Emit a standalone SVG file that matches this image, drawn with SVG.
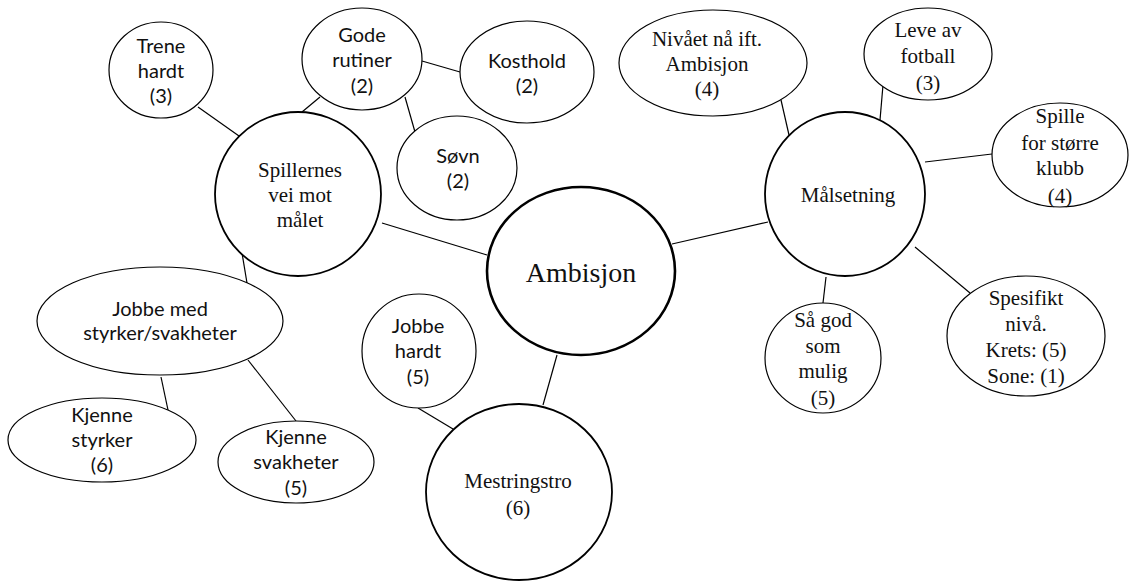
<svg xmlns="http://www.w3.org/2000/svg" width="1129" height="581" viewBox="0 0 1129 581">
  <style>
    .bg { fill: #ffffff; }
    .node { fill: #ffffff; stroke: #000000; stroke-width: 1.2; }
    .main { stroke-width: 1.8; }
    .core { stroke-width: 2.6; }
    .edge { stroke: #000000; stroke-width: 1.2; fill: none; }
    .calib { font-family: Lato, 'Liberation Sans', sans-serif; font-size: 20px; fill: #111111; text-anchor: middle; }
    .roman { font-family: 'Liberation Serif', 'Times New Roman', serif; font-size: 21px; fill: #111111; text-anchor: middle; }
    .big { font-size: 28px; }
  </style>
  <rect class="bg" x="0" y="0" width="1129" height="581"/>

  <!-- connectors -->
  <g id="connectors">
    <line class="edge" x1="198" y1="107" x2="239" y2="136"/>
    <line class="edge" x1="320" y1="97" x2="302" y2="112"/>
    <line class="edge" x1="422" y1="61" x2="460" y2="72"/>
    <line class="edge" x1="405" y1="97" x2="415" y2="132"/>
    <line class="edge" x1="382" y1="223" x2="487" y2="255"/>
    <line class="edge" x1="672" y1="244" x2="768" y2="222"/>
    <line class="edge" x1="781" y1="100" x2="789" y2="135"/>
    <line class="edge" x1="883" y1="85" x2="880" y2="120"/>
    <line class="edge" x1="992" y1="154" x2="925" y2="162"/>
    <line class="edge" x1="915" y1="247" x2="970" y2="293"/>
    <line class="edge" x1="826" y1="277" x2="823" y2="303"/>
    <line class="edge" x1="242" y1="253" x2="247" y2="283"/>
    <line class="edge" x1="161" y1="377" x2="168" y2="410"/>
    <line class="edge" x1="248" y1="360" x2="296" y2="421"/>
    <line class="edge" x1="557" y1="355" x2="543" y2="405"/>
    <line class="edge" x1="418" y1="408" x2="453" y2="429"/>
  </g>

  <!-- centre -->
  <g id="ambisjon">
    <ellipse class="node core" cx="581" cy="271" rx="94" ry="84"/>
    <text class="roman big" x="581" y="282">Ambisjon</text>
  </g>

  <!-- left branch: the players' path -->
  <g id="spillernes">
    <ellipse class="node main" cx="298" cy="194" rx="83" ry="82"/>
    <g class="roman">
      <text x="300" y="177">Spillernes</text>
      <text x="300" y="202">vei mot</text>
      <text x="300" y="227">målet</text>
    </g>
  </g>
  <g id="trene-hardt">
    <ellipse class="node" cx="161" cy="70" rx="52" ry="48"/>
    <g class="calib">
      <text x="161" y="53">Trene</text>
      <text x="161" y="78">hardt</text>
      <text x="161" y="103">(3)</text>
    </g>
  </g>
  <g id="gode-rutiner">
    <ellipse class="node" cx="362" cy="59" rx="60" ry="51"/>
    <g class="calib">
      <text x="362" y="42">Gode</text>
      <text x="362" y="67">rutiner</text>
      <text x="362" y="93">(2)</text>
    </g>
  </g>
  <g id="kosthold">
    <ellipse class="node" cx="527" cy="72" rx="67" ry="51"/>
    <g class="calib">
      <text x="527" y="68">Kosthold</text>
      <text x="527" y="93">(2)</text>
    </g>
  </g>
  <g id="sovn">
    <ellipse class="node" cx="457" cy="168" rx="60" ry="52"/>
    <g class="calib">
      <text x="458" y="163">Søvn</text>
      <text x="458" y="188">(2)</text>
    </g>
  </g>
  <g id="jobbe-med">
    <ellipse class="node" cx="160" cy="321" rx="123" ry="54"/>
    <g class="calib">
      <text x="160" y="316">Jobbe med</text>
      <text x="160" y="340">styrker/svakheter</text>
    </g>
  </g>
  <g id="kjenne-styrker">
    <ellipse class="node" cx="102" cy="440" rx="94" ry="42"/>
    <g class="calib">
      <text x="102" y="422">Kjenne</text>
      <text x="102" y="447">styrker</text>
      <text x="102" y="472">(6)</text>
    </g>
  </g>
  <g id="kjenne-svakheter">
    <ellipse class="node" cx="296" cy="462" rx="78" ry="41"/>
    <g class="calib">
      <text x="296" y="444">Kjenne</text>
      <text x="296" y="469">svakheter</text>
      <text x="296" y="495">(5)</text>
    </g>
  </g>

  <!-- lower branch: mastery -->
  <g id="mestringstro">
    <ellipse class="node main" cx="519" cy="492" rx="93" ry="88"/>
    <g class="roman">
      <text x="518" y="488">Mestringstro</text>
      <text x="518" y="515">(6)</text>
    </g>
  </g>
  <g id="jobbe-hardt">
    <ellipse class="node" cx="419" cy="351" rx="57" ry="57"/>
    <g class="calib">
      <text x="418" y="333">Jobbe</text>
      <text x="418" y="358">hardt</text>
      <text x="418" y="384">(5)</text>
    </g>
  </g>

  <!-- right branch: goals -->
  <g id="malsetning">
    <ellipse class="node main" cx="845" cy="194" rx="80" ry="82"/>
    <text class="roman" x="848" y="202">Målsetning</text>
  </g>
  <g id="nivaet">
    <ellipse class="node" cx="713" cy="63" rx="94" ry="53"/>
    <g class="roman">
      <text x="707" y="46">Nivået nå ift.</text>
      <text x="707" y="71">Ambisjon</text>
      <text x="707" y="96">(4)</text>
    </g>
  </g>
  <g id="leve-av-fotball">
    <ellipse class="node" cx="928" cy="54" rx="64" ry="46"/>
    <g class="roman">
      <text x="928" y="37">Leve av</text>
      <text x="928" y="63">fotball</text>
      <text x="928" y="90">(3)</text>
    </g>
  </g>
  <g id="storre-klubb">
    <ellipse class="node" cx="1060" cy="155" rx="68" ry="52"/>
    <g class="roman">
      <text x="1060" y="123">Spille</text>
      <text x="1060" y="150">for større</text>
      <text x="1060" y="175">klubb</text>
      <text x="1060" y="203">(4)</text>
    </g>
  </g>
  <g id="spesifikt-niva">
    <ellipse class="node" cx="1026" cy="336" rx="79" ry="60"/>
    <g class="roman">
      <text x="1026" y="305">Spesifikt</text>
      <text x="1026" y="331">nivå.</text>
      <text x="1026" y="357">Krets: (5)</text>
      <text x="1026" y="383">Sone: (1)</text>
    </g>
  </g>
  <g id="sa-god-som-mulig">
    <ellipse class="node" cx="823" cy="358" rx="58" ry="55"/>
    <g class="roman">
      <text x="823" y="327">Så god</text>
      <text x="823" y="353">som</text>
      <text x="823" y="378">mulig</text>
      <text x="823" y="405">(5)</text>
    </g>
  </g>
</svg>
